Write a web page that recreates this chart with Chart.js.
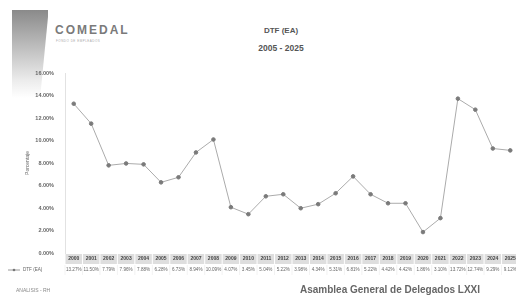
<!DOCTYPE html>
<html>
<head>
<meta charset="utf-8">
<script src="https://cdn.jsdelivr.net/npm/chart.js@4.4.1/dist/chart.umd.min.js"></script>
<style>
  html, body { margin: 0; padding: 0; background: #fff; overflow: hidden; }
  body { width: 516px; height: 297px; position: relative; font-family: "Liberation Sans", Arial, sans-serif; }
  #wrap { position: absolute; left: 0; top: 0; width: 524px; height: 297px; }
  .logo-bar {
    position: absolute; left: 12px; top: 10px; width: 36px; height: 88px;
    background: linear-gradient(to bottom, #8a8a8a 0%, #b5b5b5 35%, #ececec 80%, #fff 100%);
    clip-path: polygon(0 0, 100% 0, 100% 8%, 78% 100%, 0 100%);
  }
  .logo-text { position: absolute; left: 55px; top: 23px; font-size: 12px; font-weight: bold; color: #7a7a7a; letter-spacing: 2px; }
  .logo-sub { position: absolute; left: 56px; top: 39px; font-size: 3px; color: #aaa; letter-spacing: 0.5px; }
  .title { position: absolute; left: 231px; width: 100px; text-align: center; font-weight: bold; color: #555; }
  .foot-left { position: absolute; left: 16px; top: 287px; font-size: 5px; color: #888; }
  .foot-right { position: absolute; left: 300px; top: 284px; font-size: 10px; font-weight: bold; color: #666; white-space: nowrap; }
</style>
</head>
<body>
<div class="logo-bar"></div>
<div class="logo-text">COMEDAL</div>
<div class="logo-sub">FONDO DE EMPLEADOS</div>
<div class="title" style="top:26px;font-size:8px;">DTF (EA)</div>
<div class="title" style="top:43px;font-size:8.5px;">2005 - 2025</div>
<div id="wrap"><canvas id="chart" width="524" height="297"></canvas></div>
<div class="foot-left">ANALISIS - RH</div>
<div class="foot-right">Asamblea General de Delegados LXXI</div>
<script>
const years = ['2000', '2001', '2002', '2003', '2004', '2005', '2006', '2007', '2008', '2009',
  '2010', '2011', '2012', '2013', '2014', '2015', '2016', '2017', '2018', '2019',
  '2020', '2021', '2022', '2023', '2024', '2025'];
const dtf = [13.27, 11.50, 7.79, 7.96, 7.88, 6.28, 6.73, 8.94, 10.09, 4.07,
  3.45, 5.04, 5.22, 3.98, 4.34, 5.31, 6.81, 5.22, 4.42, 4.42,
  1.86, 3.10, 13.72, 12.74, 9.29, 9.12];
const seriesName = 'DTF (EA)';

const fmtPct = (v) => Number(v).toFixed(2) + '%';

// data table under the plot, placed with the x scale
const dataTable = {
  id: 'dataTable',
  afterDraw(chart) {
    const ctx = chart.ctx;
    const xs = chart.scales.x;
    const ca = chart.chartArea;
    const cellW = xs.width / years.length;
    const rowTop = ca.bottom + 1;
    ctx.save();
    ctx.textAlign = 'center';
    ctx.textBaseline = 'middle';
    years.forEach((yr, i) => {
      const cx = xs.getPixelForValue(i);
      ctx.fillStyle = '#dedede';
      ctx.fillRect(cx - cellW / 2 + 0.5, rowTop, cellW - 1, 10);
      ctx.fillStyle = '#444';
      ctx.font = 'bold 5px "Liberation Sans", Arial';
      ctx.fillText(yr, cx, rowTop + 5);
      ctx.fillStyle = '#666';
      ctx.font = '4.6px "Liberation Sans", Arial';
      ctx.fillText(fmtPct(dtf[i]), cx, rowTop + 16);
      ctx.strokeStyle = '#e4e4e4';
      ctx.lineWidth = 0.5;
      ctx.beginPath();
      ctx.moveTo(cx - cellW / 2, rowTop + 11);
      ctx.lineTo(cx - cellW / 2, rowTop + 21);
      ctx.stroke();
    });
    // legend key
    const ly = rowTop + 16;
    ctx.strokeStyle = '#9a9a9a';
    ctx.lineWidth = 1;
    ctx.beginPath();
    ctx.moveTo(8, ly);
    ctx.lineTo(20, ly);
    ctx.stroke();
    ctx.fillStyle = '#777';
    ctx.beginPath();
    ctx.arc(14, ly, 1.3, 0, Math.PI * 2);
    ctx.fill();
    ctx.textAlign = 'left';
    ctx.fillStyle = '#666';
    ctx.font = '4.6px "Liberation Sans", Arial';
    ctx.fillText(seriesName, 23, ly);
    ctx.restore();
  }
};

new Chart(document.getElementById('chart'), {
  type: 'line',
  data: {
    labels: years,
    datasets: [{
      label: seriesName,
      data: dtf,
      borderColor: '#ababab',
      borderWidth: 1,
      pointRadius: 1.8,
      pointBackgroundColor: '#7a7a7a',
      pointBorderColor: '#7a7a7a',
      tension: 0
    }]
  },
  options: {
    responsive: false,
    animation: false,
    layout: { padding: { left: 25, right: 2, top: 73, bottom: 0 } },
    plugins: { legend: { display: false }, tooltip: { enabled: false } },
    scales: {
      x: {
        offset: true,
        grid: { display: false },
        border: { display: false },
        ticks: { display: false },
        afterFit: (s) => { s.height = 44; }
      },
      y: {
        min: 0,
        max: 16,
        grid: { display: false },
        border: { color: '#e2e2e2' },
        ticks: {
          stepSize: 2,
          padding: 3,
          color: '#666',
          font: { size: 5.5, weight: 'bold', family: '"Liberation Sans", Arial' },
          callback: (v) => fmtPct(v)
        },
        title: {
          display: true,
          text: 'Porcentaje',
          color: '#666',
          padding: 0,
          font: { size: 5, family: '"Liberation Sans", Arial' }
        },
        afterFit: (s) => { s.width = 40; }
      }
    }
  },
  plugins: [dataTable]
});
</script>
</body>
</html>
